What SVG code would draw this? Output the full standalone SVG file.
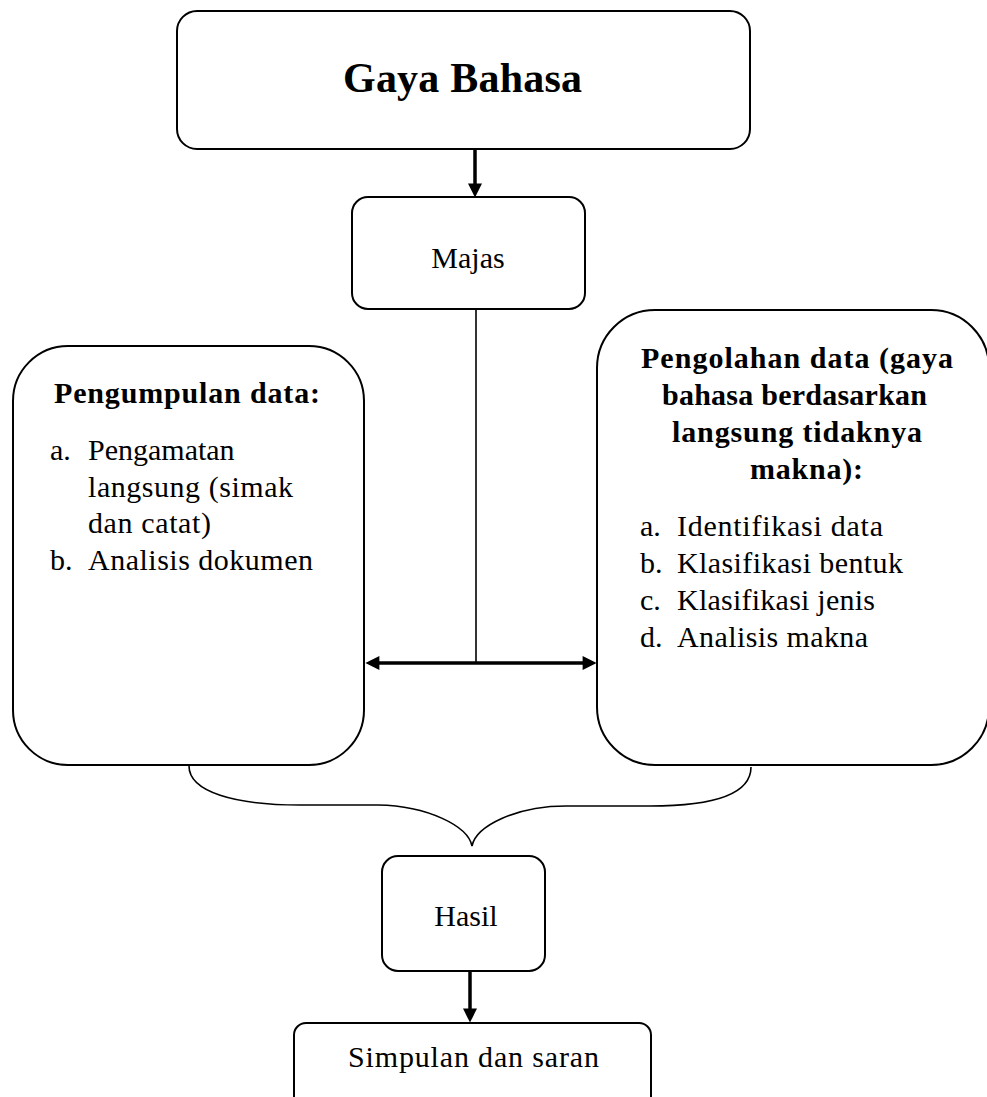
<svg xmlns="http://www.w3.org/2000/svg" width="987" height="1097" viewBox="0 0 987 1097">
<style>
.box{fill:#fff;stroke:#000;stroke-width:2}
.t{font-family:"Liberation Serif","Times New Roman",serif;font-size:30px;fill:#000}
.b{font-weight:bold}
.thick{fill:none;stroke:#000;stroke-width:3.5}
.thin{fill:none;stroke:#000;stroke-width:1.6}
</style>
<defs>
<marker id="ah" viewBox="0 0 10 10" refX="6" refY="5" markerWidth="15" markerHeight="14" markerUnits="userSpaceOnUse" orient="auto-start-reverse">
<path d="M0,0 L10,5 L0,10 z" fill="#000"/>
</marker>
</defs>
<rect width="987" height="1097" fill="#fff"/>

<g id="connectors">
<path class="thick" d="M475,149 L475,192" marker-end="url(#ah)"/>
<path class="thin" d="M476,309 L476,663"/>
<path class="thick" d="M371,663 L591,663" marker-start="url(#ah)" marker-end="url(#ah)"/>
<path class="thin" d="M189,766 C189,792 235,805 300,805 L378,805 C428,806 468,826 472,846 C476,826 516,806 566,806 L650,806 C712,806 751,795 751,767"/>
<path class="thick" d="M470,971 L470,1017" marker-end="url(#ah)"/>
</g>

<g id="gaya-bahasa">
<rect class="box" x="177" y="11" width="573" height="138" rx="20"/>
<text class="t b" x="343" y="92" font-size="42" style="font-size:42px" textLength="239">Gaya Bahasa</text>
</g>

<g id="majas">
<rect class="box" x="352" y="197" width="233" height="112" rx="16"/>
<text class="t" x="468" y="268" text-anchor="middle">Majas</text>
</g>

<g id="pengumpulan">
<rect class="box" x="13" y="346" width="351" height="419" rx="55"/>
<text class="t b" x="54" y="403" textLength="266">Pengumpulan  data:</text>
<text class="t" x="50" y="460">a.</text>
<text class="t" x="88" y="460">Pengamatan</text>
<text class="t" x="88" y="497" textLength="205">langsung  (simak</text>
<text class="t" x="88" y="533" textLength="123">dan catat)</text>
<text class="t" x="50" y="570">b.</text>
<text class="t" x="88" y="570" textLength="225">Analisis  dokumen</text>
</g>

<g id="pengolahan">
<rect class="box" x="597" y="310" width="392" height="455" rx="58"/>
<text class="t b" x="641" y="368" textLength="312">Pengolahan data (gaya</text>
<text class="t b" x="662" y="405" textLength="265">bahasa berdasarkan</text>
<text class="t b" x="672" y="442" textLength="250">langsung tidaknya</text>
<text class="t b" x="750" y="479" textLength="113">makna):</text>
<text class="t" x="640" y="536">a.</text>
<text class="t" x="677" y="536" textLength="206">Identifikasi  data</text>
<text class="t" x="640" y="573">b.</text>
<text class="t" x="677" y="573" textLength="226">Klasifikasi  bentuk</text>
<text class="t" x="640" y="610">c.</text>
<text class="t" x="677" y="610" textLength="198">Klasifikasi  jenis</text>
<text class="t" x="640" y="647">d.</text>
<text class="t" x="677" y="647" textLength="191">Analisis  makna</text>
</g>

<g id="hasil">
<rect class="box" x="382" y="856" width="163" height="115" rx="16"/>
<text class="t" x="466" y="926" text-anchor="middle">Hasil</text>
</g>

<g id="simpulan">
<rect class="box" x="294" y="1023" width="357" height="100" rx="12"/>
<text class="t" x="348" y="1067" textLength="251">Simpulan  dan saran</text>
</g>
</svg>
